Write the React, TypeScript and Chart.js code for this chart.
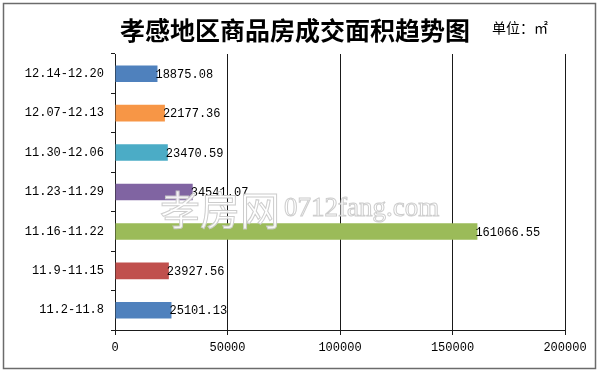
import React, { useEffect, useRef } from "react";
import { Chart, registerables } from "chart.js";

Chart.register(...registerables);

const categories = [
  "12.14-12.20",
  "12.07-12.13",
  "11.30-12.06",
  "11.23-11.29",
  "11.16-11.22",
  "11.9-11.15",
  "11.2-11.8",
];
const areaValues = [18875.08, 22177.36, 23470.59, 34541.07, 161066.55, 23927.56, 25101.13];
const barColors = ["#4F81BD", "#F79646", "#4BACC6", "#8064A2", "#9BBB59", "#C0504D", "#4F81BD"];
const titleText = "孝感地区商品房成交面积趋势图";
const unitText = "单位：㎡";
const watermarkCn = "孝房网";
const watermarkEn = "0712fang.com";

const MONO = '"Liberation Mono", "DejaVu Sans Mono", monospace';
const CJK = '"Noto Sans CJK SC", "Noto Sans", sans-serif';

const framePlugin = {
  id: "frame",
  beforeDraw(chart: any) {
    const ctx = chart.ctx;
    ctx.save();
    ctx.fillStyle = "#ffffff";
    ctx.fillRect(0, 0, chart.width, chart.height);
    ctx.strokeStyle = "#6b6b6b";
    ctx.lineWidth = 1.5;
    ctx.strokeRect(3.5, 3.5, 592, 365);
    ctx.restore();
  },
};

const titlePlugin = {
  id: "titleText",
  afterDraw(chart: any) {
    const ctx = chart.ctx;
    ctx.save();
    ctx.fillStyle = "#000";
    ctx.textBaseline = "middle";
    ctx.textAlign = "center";
    ctx.font = `bold 25px ${CJK}`;
    ctx.fillText(titleText, 295, 30);
    ctx.textAlign = "left";
    ctx.font = `14px ${CJK}`;
    ctx.fillText(unitText, 492, 28);
    ctx.restore();
  },
};

const valueLabelPlugin = {
  id: "valueLabels",
  afterDatasetsDraw(chart: any) {
    const ctx = chart.ctx;
    const meta = chart.getDatasetMeta(0);
    ctx.save();
    ctx.fillStyle = "#000";
    ctx.font = `12px ${MONO}`;
    ctx.textAlign = "left";
    ctx.textBaseline = "middle";
    meta.data.forEach((bar: any, i: number) => {
      const v = chart.data.datasets[0].data[i] as number;
      ctx.fillText(v.toFixed(2), bar.x - 2, bar.y + 1);
    });
    ctx.restore();
  },
};

const watermarkPlugin = {
  id: "watermark",
  afterDraw(chart: any) {
    const ctx = chart.ctx;
    ctx.save();
    ctx.textBaseline = "middle";
    ctx.textAlign = "left";
    ctx.lineWidth = 1;
    ctx.strokeStyle = "rgba(200,200,200,0.9)";
    ctx.fillStyle = "rgba(255,255,255,0.9)";
    ctx.font = `40px ${CJK}`;
    ctx.fillText(watermarkCn, 160, 210);
    ctx.strokeText(watermarkCn, 160, 210);
    ctx.font = `27px "Liberation Serif", "DejaVu Serif", serif`;
    ctx.fillText(watermarkEn, 284, 209);
    ctx.strokeText(watermarkEn, 284, 209);
    ctx.restore();
  },
};

export default function App() {
  const canvasRef = useRef<HTMLCanvasElement | null>(null);

  useEffect(() => {
    if (!canvasRef.current) return;
    const chart = new Chart(canvasRef.current, {
      type: "bar",
      data: {
        labels: categories,
        datasets: [
          {
            data: areaValues,
            backgroundColor: barColors,
            borderWidth: 0,
            categoryPercentage: 1,
            barPercentage: 0.42,
          },
        ],
      },
      options: {
        indexAxis: "y",
        responsive: false,
        animation: false,
        devicePixelRatio: 1,
        layout: { padding: { top: 54, right: 35, left: 0, bottom: 0 } },
        plugins: {
          legend: { display: false },
          title: { display: false },
          tooltip: { enabled: false },
        },
        scales: {
          x: {
            type: "linear",
            min: 0,
            max: 200000,
            afterFit: (scale: any) => {
              scale.height = 42;
            },
            ticks: {
              stepSize: 50000,
              color: "#000",
              font: { family: MONO, size: 12 },
              padding: 6,
              maxRotation: 0,
              callback: (v: any) => String(v),
            },
            grid: { color: "#1a1a1a", lineWidth: 1, tickLength: 5, drawTicks: true },
            border: { display: true, color: "#1a1a1a" },
          },
          y: {
            type: "category",
            afterFit: (scale: any) => {
              scale.width = 115;
            },
            ticks: {
              color: "#000",
              font: { family: MONO, size: 12 },
              padding: 7,
            },
            grid: {
              offset: true,
              drawOnChartArea: false,
              tickLength: 4,
              color: "#1a1a1a",
            },
            border: { display: true, color: "#1a1a1a" },
          },
        },
      } as any,
      plugins: [framePlugin, titlePlugin, valueLabelPlugin, watermarkPlugin],
    });
    return () => chart.destroy();
  }, []);

  return (
    <div style={{ position: "fixed", left: 0, top: 0, width: 600, height: 372 }}>
      <canvas ref={canvasRef} width={600} height={372} style={{ display: "block" }} />
    </div>
  );
}
